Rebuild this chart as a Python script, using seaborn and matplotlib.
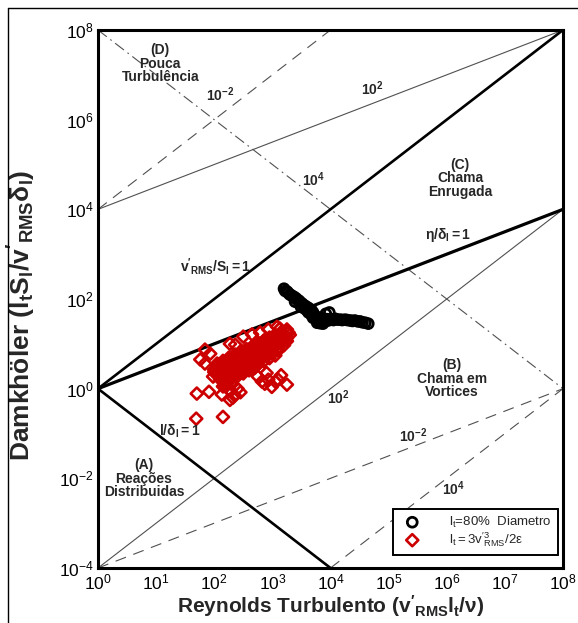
''' Diagrama de Borghi (regimes de combustão) com os pontos medidos. '''

import numpy as np
import matplotlib
matplotlib.use("Agg")
import matplotlib.pyplot as plt
import seaborn as sns
from matplotlib.lines import Line2D
from matplotlib.ticker import LogLocator, NullLocator, NullFormatter

# linhas de regime: pares (Re, Da) das extremidades
grossas_re = [[1, 1e8], [1, 1e4]]
grossas_da = [[1, 1e8], [1, 1e-4]]
kolmogorov_re = [1, 1e8]
kolmogorov_da = [1, 1e4]
finas_re = [[1, 1e8], [1, 1e8]]
finas_da = [[1e-4, 1e4], [1e4, 1e8]]
tracejadas_re = [[1, 1e4], [1e4, 1e8], [1, 1e8]]
tracejadas_da = [[1e4, 1e8], [1e-4, 1], [1e-4, 1]]
traco_ponto_re = [1, 1e8]
traco_ponto_da = [1e8, 1]

# lt = 80% diametro (expoentes log10 de Re e Da)
preto_log_re = [3.20, 3.25, 3.30, 3.36, 3.41, 3.39, 3.46, 3.51, 3.49, 3.56, 3.61, 3.60,
                3.67, 3.70, 3.73, 3.68, 3.77, 3.80, 3.84, 3.87, 3.77, 3.82, 3.89, 3.92,
                3.98, 3.99, 4.08, 4.17, 4.25, 4.34, 4.42, 4.51, 4.60, 4.65, 3.75, 3.85,
                3.22, 3.27, 3.33, 3.38, 3.43, 3.48, 3.53, 3.58, 3.63, 3.65, 3.70, 3.72,
                3.75, 3.79, 3.82, 3.86, 3.89, 3.94, 3.96, 4.02, 4.05, 4.12, 4.20, 4.29,
                4.38, 4.47, 4.55, 3.55, 3.62, 3.70]
preto_log_da = [2.23, 2.17, 2.10, 2.05, 2.01, 1.94, 1.96, 1.90, 1.83, 1.85, 1.81, 1.74,
                1.76, 1.70, 1.63, 1.63, 1.56, 1.52, 1.47, 1.45, 1.47, 1.58, 1.56, 1.67,
                1.70, 1.54, 1.56, 1.54, 1.54, 1.52, 1.52, 1.50, 1.47, 1.45, 1.60, 1.50,
                2.18, 2.14, 2.08, 2.04, 1.98, 1.92, 1.87, 1.82, 1.78, 1.72, 1.66, 1.60,
                1.56, 1.50, 1.46, 1.48, 1.50, 1.55, 1.52, 1.55, 1.53, 1.54, 1.53, 1.53,
                1.51, 1.50, 1.48, 1.79, 1.70, 1.58]

# lt = 3v'^3/2eps
verm_log_re = [1.69, 2.15, 1.70, 1.91, 1.98, 2.13, 2.27, 1.84, 1.93, 1.76, 1.84,
               2.27, 2.36, 2.50, 2.65, 2.79, 2.93, 3.08, 3.13,
               2.36, 2.48, 2.58, 2.70, 2.82,
               2.05, 2.15, 2.25, 2.35, 2.45, 2.55, 2.65, 2.75, 2.85, 2.95, 3.05, 3.15, 3.25,
               2.00, 2.10, 2.20, 2.30, 2.40, 2.50, 2.60, 2.70, 2.80, 2.90, 3.00, 3.10, 3.20, 3.28,
               2.05, 2.15, 2.25, 2.35, 2.45, 2.55, 2.65, 2.75, 2.85, 2.95, 3.05, 3.15, 3.25,
               2.10, 2.20, 2.30, 2.40, 2.50, 2.60, 2.70, 2.80, 2.90, 3.00, 3.10, 3.20,
               2.15, 2.25, 2.35, 2.45, 2.55, 2.65, 2.75, 2.85, 2.95, 3.05,
               2.05, 2.15, 2.25, 2.35, 2.45, 2.55, 2.65, 2.75, 2.85, 2.95, 3.05, 3.15, 3.25,
               2.00, 2.10, 2.20, 2.30, 2.40, 2.50, 2.60, 2.70, 2.80, 2.90, 3.00, 3.10, 3.20, 3.30,
               2.05, 2.15, 2.25, 2.35, 2.45, 2.55, 2.65, 2.75, 2.85, 2.95, 3.05, 3.15, 3.25,
               2.10, 2.20, 2.30, 2.40, 2.50, 2.60, 2.70, 2.80, 2.90, 3.00, 3.10,
               2.20, 2.30, 2.40, 2.50, 2.60, 2.70,
               2.20, 2.28, 2.35, 2.40, 2.30, 2.45, 2.22, 2.15, 2.25, 2.32,
               2.75, 2.82, 2.87, 2.93, 2.99, 3.05, 3.10, 3.25, 2.90, 3.15]
verm_log_da = [-0.67, -0.63, -0.11, -0.07, 0.27, -0.13, -0.25, 0.87, 0.78, 0.65, 0.56,
               1.00, 0.98, 1.16, 1.21, 1.25, 1.32, 1.38, 1.34,
               0.76, 0.83, 0.87, 0.94, 1.00,
               0.56, 0.62, 0.69, 0.75, 0.82, 0.88, 0.94, 1.01, 1.07, 1.14, 1.20, 1.26, 1.32,
               0.42, 0.49, 0.55, 0.62, 0.68, 0.75, 0.81, 0.87, 0.94, 1.00, 1.07, 1.13, 1.19, 1.25,
               0.36, 0.42, 0.49, 0.55, 0.62, 0.68, 0.74, 0.81, 0.87, 0.94, 1.00, 1.06, 1.13,
               0.27, 0.33, 0.40, 0.46, 0.52, 0.59, 0.65, 0.72, 0.78, 0.84, 0.91, 0.97,
               0.16, 0.22, 0.29, 0.35, 0.42, 0.48, 0.55, 0.61, 0.68, 0.74,
               0.51, 0.57, 0.64, 0.70, 0.76, 0.83, 0.89, 0.95, 1.02, 1.08, 1.15, 1.21, 1.27,
               0.37, 0.44, 0.50, 0.57, 0.63, 0.69, 0.76, 0.82, 0.89, 0.95, 1.01, 1.08, 1.14, 1.20,
               0.30, 0.36, 0.43, 0.49, 0.55, 0.62, 0.68, 0.74, 0.81, 0.87, 0.94, 1.00, 1.06,
               0.21, 0.27, 0.34, 0.40, 0.46, 0.53, 0.59, 0.66, 0.72, 0.78, 0.85,
               0.15, 0.22, 0.28, 0.34, 0.41, 0.47,
               0.05, -0.05, -0.15, 0.00, 0.10, -0.08, 0.15, 0.05, -0.02, -0.20,
               0.27, 0.16, 0.11, 0.20, 0.04, 0.16, 0.20, 0.09, 0.35, 0.30]

sns.set_style("white")
plt.rcParams['font.family'] = ['Liberation Sans', 'DejaVu Sans']
plt.rcParams['mathtext.fontset'] = 'custom'
plt.rcParams['mathtext.rm'] = 'Liberation Sans'
plt.rcParams['mathtext.it'] = 'Liberation Sans:italic'
plt.rcParams['mathtext.bf'] = 'Liberation Sans:bold'

fig = plt.figure(figsize=(5.78, 6.23), dpi=100)
ax = fig.add_axes([98 / 578, 1 - 568 / 623, 465 / 578, 538 / 623])

cinza = '#505050'
for xs, ys in zip(grossas_re, grossas_da):
    ax.plot(xs, ys, color='black', lw=1.9, zorder=2)
ax.plot(kolmogorov_re, kolmogorov_da, color='black', lw=2.3, zorder=2)
for xs, ys in zip(finas_re, finas_da):
    ax.plot(xs, ys, color=cinza, lw=0.8, zorder=1)
for xs, ys in zip(tracejadas_re, tracejadas_da):
    ax.plot(xs, ys, color=cinza, lw=0.8, ls=(0, (10, 7)), zorder=1)
ax.plot(traco_ponto_re, traco_ponto_da, color=cinza, lw=0.8, ls=(0, (10, 4, 1.5, 4)), zorder=1)

sns.scatterplot(x=10 ** np.array(preto_log_re), y=10 ** np.array(preto_log_da), ax=ax,
                marker='o', s=50, color='black', facecolor='none', edgecolor='black',
                linewidth=2.0, label=r"$\mathregular{l_t}$=80%  Diametro", zorder=4)
sns.scatterplot(x=10 ** np.array(verm_log_re), y=10 ** np.array(verm_log_da), ax=ax,
                marker='D', s=38, color='#cc0000', facecolor='none', edgecolor='#cc0000',
                linewidth=1.9, label=r"$\mathregular{l_t=3v'^3_{RMS}/2\epsilon}$", zorder=3)

ax.set_xscale('log')
ax.set_yscale('log')
ax.set_xlim(1, 1e8)
ax.set_ylim(1e-4, 1e8)
ax.xaxis.set_major_locator(LogLocator(base=10, numticks=20))
ax.xaxis.set_minor_locator(LogLocator(base=10, subs=np.arange(2, 10), numticks=20))
ax.xaxis.set_minor_formatter(NullFormatter())
ax.yaxis.set_major_locator(LogLocator(base=100, numticks=20))
ax.yaxis.set_minor_locator(NullLocator())
ax.tick_params(which='major', direction='in', length=7, width=1.8, labelsize=12.5,
               pad=3, colors='black')
ax.tick_params(which='minor', direction='in', length=4, width=0.9)
for sp in ax.spines.values():
    sp.set_linewidth(2.2)
    sp.set_color('black')

ax.set_xlabel(r"Reynolds Turbulento ($\mathbf{v'_{RMS}l_t/\nu}$)", fontsize=15,
              fontweight='bold', labelpad=1)
ax.set_ylabel(r"Damkhöler ($\mathbf{l_tS_l/v'_{RMS}\delta_l}$)", fontsize=19,
              fontweight='bold')
ax.yaxis.set_label_coords(-0.128, 0.47)

rotulo = dict(fontsize=10, fontweight='bold', ha='center', va='center', linespacing=0.95)
ax.text(10 ** 1.07, 10 ** 7.25, "(D)\nPouca\nTurbulência", **rotulo)
ax.text(10 ** 6.23, 10 ** 4.69, "(C)\nChama\nEnrugada", **rotulo)
ax.text(10 ** 6.09, 10 ** 0.22, "(B)\nChama em\nVortices", **rotulo)
ax.text(10 ** 0.79, 10 ** -2.01, "(A)\nReações\nDistribuidas", **rotulo)
ax.text(10 ** 2.10, 10 ** 6.56, r"$\mathbf{10^{-2}}$", **rotulo)
ax.text(10 ** 4.72, 10 ** 6.70, r"$\mathbf{10^{2}}$", **rotulo)
ax.text(10 ** 3.70, 10 ** 4.67, r"$\mathbf{10^{4}}$", **rotulo)
ax.text(10 ** 4.13, 10 ** -0.20, r"$\mathbf{10^{2}}$", **rotulo)
ax.text(10 ** 5.42, 10 ** -1.05, r"$\mathbf{10^{-2}}$", **rotulo)
ax.text(10 ** 6.11, 10 ** -2.23, r"$\mathbf{10^{4}}$", **rotulo)
ax.text(10 ** 6.02, 10 ** 3.42, r"$\mathbf{\eta/\delta_l=1}$", **rotulo)
ax.text(10 ** 2.03, 10 ** 2.72, r"$\mathbf{v'_{RMS}/S_l=1}$", **rotulo)
ax.text(10 ** 1.41, 10 ** -0.94, r"$\mathbf{l/\delta_l=1}$", **rotulo)

leg = ax.legend(loc='lower right', bbox_to_anchor=(0.989, 0.024), fontsize=9.5,
                frameon=True, fancybox=False, framealpha=1, edgecolor='black',
                handletextpad=1.8, borderpad=0.45, labelspacing=0.05, borderaxespad=0)
leg.get_frame().set_linewidth(1.4)

fig.add_artist(Line2D([8 / 578, 1], [1 - 8 / 623, 1 - 8 / 623], transform=fig.transFigure,
                      color='black', lw=1))
fig.add_artist(Line2D([8 / 578, 8 / 578], [0, 1 - 8 / 623], transform=fig.transFigure,
                      color='black', lw=1))

fig.savefig('out.png', dpi=100)
